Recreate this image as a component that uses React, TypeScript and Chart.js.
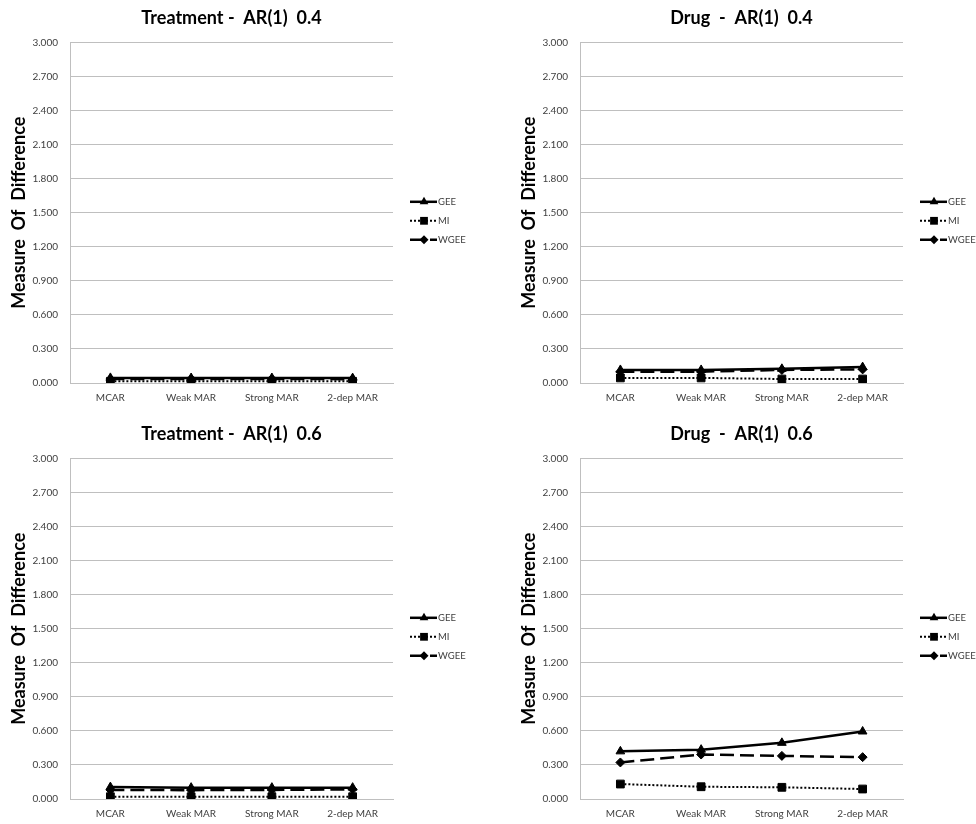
import React, { useEffect, useRef } from 'react';
import { Chart, registerables } from 'chart.js';

Chart.register(...registerables);

// ---- data ----
const categories = ['MCAR', 'Weak MAR', 'Strong MAR', '2-dep MAR'];
const seriesNames = ['GEE', 'MI', 'WGEE'];
const panelTitles = [
  'Treatment -  AR(1)  0.4',
  'Drug  -  AR(1)  0.4',
  'Treatment -  AR(1)  0.6',
  'Drug  -  AR(1)  0.6',
];
const yAxisTitle = 'Measure  Of  Difference';
const yMin = 0;
const yMax = 3;
const yStep = 0.3;

const treat04GEE = [0.045, 0.044, 0.044, 0.043];
const treat04MI = [0.015, 0.015, 0.015, 0.015];
const treat04WGEE = [0.035, 0.035, 0.035, 0.034];

const drug04GEE = [0.115, 0.115, 0.125, 0.14];
const drug04MI = [0.045, 0.045, 0.035, 0.035];
const drug04WGEE = [0.1, 0.1, 0.115, 0.12];

const treat06GEE = [0.105, 0.1, 0.1, 0.1];
const treat06MI = [0.02, 0.02, 0.02, 0.02];
const treat06WGEE = [0.08, 0.078, 0.08, 0.085];

const drug06GEE = [0.42, 0.435, 0.495, 0.595];
const drug06MI = [0.132, 0.108, 0.103, 0.088];
const drug06WGEE = [0.322, 0.392, 0.38, 0.369];

const panelSeries = [
  [treat04GEE, treat04MI, treat04WGEE],
  [drug04GEE, drug04MI, drug04WGEE],
  [treat06GEE, treat06MI, treat06WGEE],
  [drug06GEE, drug06MI, drug06WGEE],
];

// ---- styles ----
const FONT = 'Lato';
const CANVAS_H = 408;
const panelPos = [
  { left: 0, top: 0, width: 488, padRight: 95 },
  { left: 510, top: 0, width: 466, padRight: 73 },
  { left: 0, top: 416, width: 488, padRight: 95 },
  { left: 510, top: 416, width: 466, padRight: 73 },
];

const seriesStyles = [
  { pointStyle: 'triangle', pointRadius: 5, borderWidth: 2.5, borderDash: [] as number[] },
  { pointStyle: 'rect', pointRadius: 5.5, borderWidth: 2, borderDash: [2, 2] },
  { pointStyle: 'rectRot', pointRadius: 4.5, borderWidth: 2.5, borderDash: [14, 6] },
];

function drawMarker(ctx: CanvasRenderingContext2D, style: string, x: number, y: number, r: number) {
  ctx.beginPath();
  if (style === 'triangle') {
    let rad = 0;
    ctx.moveTo(x + Math.sin(rad) * r, y - Math.cos(rad) * r);
    rad += (2 * Math.PI) / 3;
    ctx.lineTo(x + Math.sin(rad) * r, y - Math.cos(rad) * r);
    rad += (2 * Math.PI) / 3;
    ctx.lineTo(x + Math.sin(rad) * r, y - Math.cos(rad) * r);
  } else if (style === 'rect') {
    const s = Math.SQRT1_2 * r;
    ctx.rect(x - s, y - s, 2 * s, 2 * s);
  } else {
    ctx.moveTo(x - r, y);
    ctx.lineTo(x, y - r);
    ctx.lineTo(x + r, y);
    ctx.lineTo(x, y + r);
  }
  ctx.closePath();
  ctx.fill();
}

const sideLegend = {
  id: 'sideLegend',
  afterDraw(chart: any) {
    const { ctx, chartArea } = chart;
    const x0 = chartArea.right + 17;
    const yc = (chartArea.top + chartArea.bottom) / 2 + 8;
    chart.data.datasets.forEach((ds: any, i: number) => {
      const y = yc + (i - 1) * 19;
      ctx.save();
      ctx.strokeStyle = ds.borderColor;
      ctx.fillStyle = ds.backgroundColor;
      ctx.lineWidth = ds.borderWidth;
      ctx.setLineDash(ds.borderDash || []);
      ctx.beginPath();
      ctx.moveTo(x0, y);
      ctx.lineTo(x0 + 27, y);
      ctx.stroke();
      ctx.setLineDash([]);
      drawMarker(ctx, ds.pointStyle, x0 + 14, y, ds.pointRadius);
      ctx.fillStyle = '#404040';
      ctx.font = `9.5px ${FONT}`;
      ctx.textBaseline = 'middle';
      ctx.textAlign = 'left';
      ctx.fillText(ds.label, x0 + 28, y);
      ctx.restore();
    });
  },
};

function Panel({ index }: { index: number }) {
  const ref = useRef<HTMLCanvasElement | null>(null);
  const pos = panelPos[index];
  useEffect(() => {
    if (!ref.current) return;
    const datasets = seriesNames.map((name, i) => ({
      label: name,
      data: panelSeries[index][i],
      borderColor: '#000',
      backgroundColor: '#000',
      pointBackgroundColor: '#000',
      pointBorderColor: '#000',
      pointBorderWidth: 1,
      pointStyle: seriesStyles[i].pointStyle,
      pointRadius: seriesStyles[i].pointRadius,
      borderWidth: seriesStyles[i].borderWidth,
      borderDash: seriesStyles[i].borderDash,
      tension: 0,
      fill: false,
    }));
    const chart = new Chart(ref.current, {
      type: 'line',
      data: { labels: categories, datasets },
      options: {
        responsive: false,
        animation: false,
        layout: { padding: { left: 0, right: pos.padRight, top: 0, bottom: 0 } },
        plugins: {
          legend: { display: false },
          tooltip: { enabled: false },
          title: {
            display: true,
            fullSize: false,
            text: panelTitles[index],
            color: '#000',
            font: { family: FONT, size: 18, weight: 'bold' },
            padding: { top: 7, bottom: 14 },
          },
        },
        scales: {
          x: {
            type: 'category',
            offset: true,
            grid: { display: true, color: 'rgba(0,0,0,0)', drawTicks: false },
            border: { display: true, color: '#bfbfbf', width: 1 },
            ticks: {
              font: { family: FONT, size: 10 },
              color: '#404040',
              padding: 9,
              autoSkip: false,
              maxRotation: 0,
            },
            afterFit: (s: any) => {
              s.height = 25;
            },
          },
          y: {
            min: yMin,
            max: yMax,
            ticks: {
              stepSize: yStep,
              callback: (v: any) => Number(v).toFixed(3),
              font: { family: FONT, size: 10 },
              color: '#404040',
              padding: 12,
            },
            grid: { color: '#bfbfbf', drawTicks: false, lineWidth: 1 },
            border: { display: true, color: '#bfbfbf', width: 1 },
            title: {
              display: true,
              text: yAxisTitle,
              color: '#000',
              font: { family: FONT, size: 18, weight: 'bold' },
              padding: { top: 8, bottom: 0 },
            },
            afterFit: (s: any) => {
              s.width = 70;
            },
          },
        },
      } as any,
      plugins: [sideLegend],
    });
    return () => chart.destroy();
  }, [index]);
  return (
    <canvas
      ref={ref}
      width={pos.width}
      height={CANVAS_H}
      style={{ position: 'absolute', left: pos.left, top: pos.top, width: pos.width, height: CANVAS_H }}
    />
  );
}

export default function App() {
  return (
    <div
      style={{
        position: 'absolute',
        left: 0,
        top: 0,
        width: 976,
        height: 824,
        background: '#fff',
        overflow: 'hidden',
      }}
    >
      {[0, 1, 2, 3].map((i) => (
        <Panel key={i} index={i} />
      ))}
    </div>
  );
}
